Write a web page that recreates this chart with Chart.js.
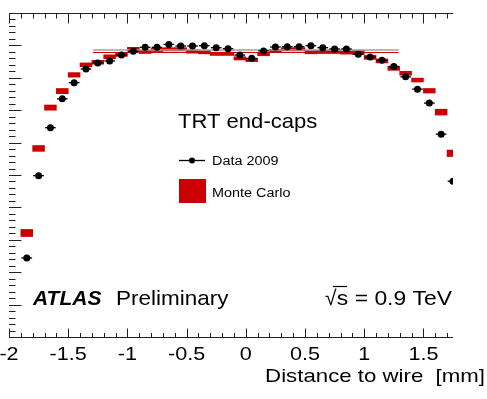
<!DOCTYPE html>
<html>
<head>
<meta charset="utf-8">
<script src="https://cdn.jsdelivr.net/npm/chart.js@4.4.1/dist/chart.umd.min.js"></script>
<style>
html, body { margin: 0; padding: 0; background: #fff; }
canvas { display: block; }
</style>
</head>
<body>
<canvas id="c" width="487" height="399"></canvas>
<script>
// bin centres (mm), 0.1 mm wide
var binCenters = [-1.85, -1.75, -1.65, -1.55, -1.45, -1.35, -1.25, -1.15, -1.05, -0.95,
                  -0.85, -0.75, -0.65, -0.55, -0.45, -0.35, -0.25, -0.15, -0.05, 0.05,
                  0.15, 0.25, 0.35, 0.45, 0.55, 0.65, 0.75, 0.85, 0.95, 1.05,
                  1.15, 1.25, 1.35, 1.45, 1.55, 1.65, 1.75];

// Data 2009 (arbitrary units, axis 0..10)
var dataValues = [2.44, 4.98, 6.46, 7.35, 7.85, 8.27, 8.46, 8.52, 8.70, 8.82,
                  8.94, 8.94, 9.03, 8.98, 8.98, 8.99, 8.93, 8.90, 8.70, 8.60,
                  8.83, 8.95, 8.96, 8.96, 8.99, 8.93, 8.89, 8.89, 8.73, 8.64,
                  8.54, 8.35, 8.03, 7.65, 7.22, 6.26, 4.81];

// Monte Carlo (centre and half height of the boxes)
var mcValues = [3.21, 5.82, 7.08, 7.59, 8.09, 8.40, 8.48, 8.65, 8.72, 8.88,
                8.80, 8.86, 8.88, 8.88, 8.81, 8.79, 8.74, 8.74, 8.60, 8.55,
                8.73, 8.83, 8.88, 8.88, 8.79, 8.80, 8.80, 8.78, 8.78, 8.63,
                8.52, 8.29, 8.14, 7.93, 7.60, 6.94, 5.67];
var mcErrors = [0.11, 0.09, 0.08, 0.08, 0.07, 0.06, 0.06, 0.06, 0.06, 0.06,
                0.05, 0.05, 0.05, 0.05, 0.05, 0.05, 0.05, 0.05, 0.05, 0.05,
                0.05, 0.05, 0.05, 0.05, 0.05, 0.05, 0.05, 0.05, 0.06, 0.06,
                0.06, 0.06, 0.06, 0.06, 0.07, 0.09, 0.10];

// plateau fits
var fitRange = [-1.29, 1.29];
var dataFitLevel = 8.86;
var mcFitLevel = 8.78;

var xTickValues = [-2, -1.5, -1, -0.5, 0, 0.5, 1, 1.5];
var xTickLabels = ['-2', '-1.5', '-1', '-0.5', '0', '0.5', '1', '1.5'];

var RED = '#cc0000';
var FONT = '"Liberation Sans", Arial, Helvetica, sans-serif';

function drawText(ctx, s, x, y, size, stretch, align, style) {
    ctx.save();
    ctx.translate(x, y);
    ctx.scale(stretch, 1);
    ctx.font = (style || '') + ' ' + size + 'px ' + FONT;
    ctx.textAlign = align || 'left';
    ctx.textBaseline = 'alphabetic';
    ctx.fillStyle = '#000';
    ctx.fillText(s, 0, 0);
    ctx.restore();
}

// horizontal error bars of the data, drawn just before the markers
var errorBarPlugin = {
    id: 'errorBars',
    beforeDatasetDraw: function (chart, args) {
        if (args.index !== 0) return;
        var ctx = chart.ctx, xs = chart.scales.x, ys = chart.scales.y, a = chart.chartArea;
        ctx.save();
        ctx.beginPath();
        ctx.rect(a.left, a.top, a.right - a.left, a.bottom - a.top);
        ctx.clip();
        ctx.strokeStyle = '#000';
        ctx.lineWidth = 1.3;
        for (var i = 0; i < binCenters.length; i++) {
            var y = ys.getPixelForValue(dataValues[i]);
            ctx.beginPath();
            ctx.moveTo(xs.getPixelForValue(binCenters[i] - 0.045), y);
            ctx.lineTo(xs.getPixelForValue(binCenters[i] + 0.045), y);
            ctx.stroke();
        }
        ctx.restore();
    }
};

// ROOT style frame: inward ticks, labels, legend and texts
var framePlugin = {
    id: 'frame',
    afterDraw: function (chart) {
        var ctx = chart.ctx, xs = chart.scales.x, ys = chart.scales.y, a = chart.chartArea;
        var top = Math.round(a.top) + 0.5, bottom = Math.round(a.bottom) + 0.5;
        var left = Math.round(a.left) + 0.5, right = Math.round(a.right);
        ctx.save();
        ctx.strokeStyle = '#222';
        ctx.lineWidth = 1;
        ctx.beginPath();
        ctx.moveTo(left - 0.5, top); ctx.lineTo(right, top);
        ctx.moveTo(left - 0.5, bottom); ctx.lineTo(right, bottom);
        for (var i = -20; i <= 17; i++) {
            var px = Math.round(xs.getPixelForValue(i / 10)) + 0.5;
            var major = (i % 5 === 0);
            ctx.moveTo(px, bottom); ctx.lineTo(px, bottom - (major ? 9 : 4.5));
            ctx.moveTo(px, top); ctx.lineTo(px, top + (major ? 10 : 5));
        }
        for (var j = 0; j <= 50; j++) {
            var py = Math.round(ys.getPixelForValue(j / 5)) + 0.5;
            ctx.moveTo(left - 0.5, py); ctx.lineTo(left + (j % 5 === 0 ? 12 : 6), py);
        }
        ctx.stroke();
        ctx.restore();

        for (var k = 0; k < xTickValues.length; k++) {
            drawText(ctx, xTickLabels[k], xs.getPixelForValue(xTickValues[k]), 360, 18, 1.2, 'center');
        }
        drawText(ctx, 'Distance to wire  [mm]', 485, 382, 19, 1.17, 'right');

        drawText(ctx, 'TRT end-caps', 178, 128, 21, 1.05, 'left');

        // legend
        ctx.save();
        ctx.strokeStyle = '#000';
        ctx.lineWidth = 1.3;
        ctx.beginPath();
        ctx.moveTo(179, 160.5); ctx.lineTo(205, 160.5);
        ctx.stroke();
        ctx.fillStyle = '#000';
        ctx.beginPath();
        ctx.arc(192, 160.5, 3, 0, Math.PI * 2);
        ctx.fill();
        ctx.fillStyle = RED;
        ctx.fillRect(179, 179, 27, 24);
        ctx.restore();
        drawText(ctx, 'Data 2009', 212, 164.5, 12, 1.2, 'left');
        drawText(ctx, 'Monte Carlo', 212, 196.5, 12, 1.2, 'left');

        drawText(ctx, 'ATLAS', 33, 305, 21, 1, 'left', 'italic bold');
        drawText(ctx, 'Preliminary', 116, 305, 21, 1.07, 'left');

        drawText(ctx, '\u221A', 325, 305, 21, 1, 'left');
        drawText(ctx, 's = 0.9 TeV', 452, 305, 21, 1.09, 'right');
        ctx.save();
        ctx.strokeStyle = '#000';
        ctx.lineWidth = 1.2;
        ctx.beginPath();
        ctx.moveTo(333, 286.5); ctx.lineTo(347, 286.5);
        ctx.stroke();
        ctx.restore();
    }
};

new Chart(document.getElementById('c'), {
    type: 'bar',
    data: {
        datasets: [
            {
                type: 'scatter',
                label: 'Data 2009',
                data: binCenters.map(function (x, i) { return { x: x, y: dataValues[i] }; }),
                backgroundColor: '#000',
                borderColor: '#000',
                pointRadius: 3.5,
                pointHoverRadius: 3.5,
                pointBorderWidth: 0,
                clip: 0,
                order: 0
            },
            {
                type: 'line',
                label: 'Data fit',
                data: [{ x: fitRange[0], y: dataFitLevel }, { x: fitRange[1], y: dataFitLevel }],
                borderColor: '#a0a0a0',
                borderWidth: 1.5,
                pointRadius: 0,
                fill: false,
                order: 1
            },
            {
                type: 'line',
                label: 'MC fit',
                data: [{ x: fitRange[0], y: mcFitLevel }, { x: fitRange[1], y: mcFitLevel }],
                borderColor: RED,
                borderWidth: 1,
                pointRadius: 0,
                fill: false,
                order: 2
            },
            {
                type: 'bar',
                label: 'Monte Carlo',
                data: binCenters.map(function (x, i) {
                    return { x: x, y: [mcValues[i] - mcErrors[i], mcValues[i] + mcErrors[i]] };
                }),
                backgroundColor: RED,
                borderWidth: 0,
                barPercentage: 1,
                categoryPercentage: 1,
                order: 3
            }
        ]
    },
    options: {
        responsive: false,
        animation: false,
        events: [],
        layout: { padding: { left: 9, right: 34, top: 13, bottom: 62 } },
        plugins: { legend: { display: false }, tooltip: { enabled: false } },
        scales: {
            x: { type: 'linear', min: -2, max: 1.75, offset: false, display: false },
            y: { type: 'linear', min: 0, max: 10, display: false }
        }
    },
    plugins: [errorBarPlugin, framePlugin]
});
</script>
</body>
</html>
